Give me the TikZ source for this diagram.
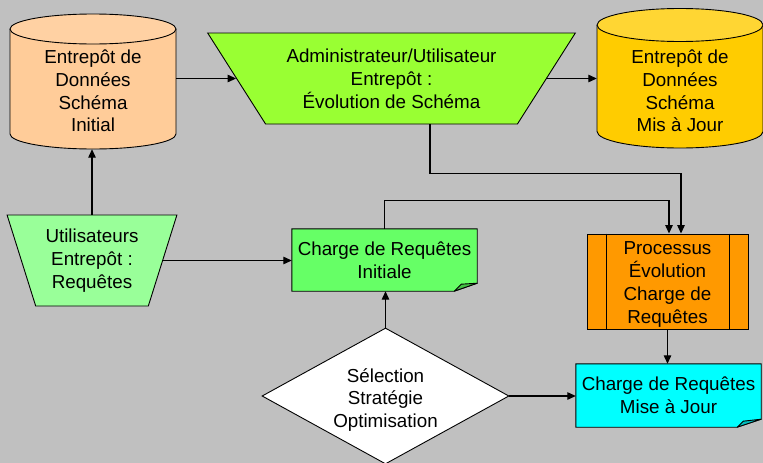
\documentclass[tikz,border=0pt]{standalone}
\usepackage{fontspec}
\setmainfont{Liberation Sans}
\usetikzlibrary{shapes.geometric,arrows.meta,calc}

\definecolor{canvas}{HTML}{C0C0C0}
\definecolor{peach}{HTML}{FFCC99}
\definecolor{peachtop}{HTML}{FFD1A3}
\definecolor{gold}{HTML}{FFCC00}
\definecolor{goldtop}{HTML}{FFD633}
\definecolor{lime}{HTML}{99FF33}
\definecolor{mint}{HTML}{99FF99}
\definecolor{notegreen}{HTML}{66FF66}
\definecolor{notegreendark}{HTML}{44C044}
\definecolor{procorange}{HTML}{FF9900}
\definecolor{aqua}{HTML}{00FFFF}
\definecolor{aquadark}{HTML}{00BFBF}

\pgfdeclarelayer{back}
\pgfdeclarelayer{shapes}
\pgfsetlayers{back,shapes,main}

\tikzset{
  txt/.style={align=center, inner sep=0pt},
  outline/.style={draw=black, line width=0.9pt},
  arr/.style={line width=1.2pt, -{Triangle[length=8.5pt,width=7.5pt]}},
  trap/.style={trapezium, trapezium stretches=true, shape border rotate=180,
    inner sep=0pt, align=center, outline},
  area/.style={inner sep=0pt, minimum width=166pt},
  notebox/.style={inner sep=0pt, align=center, minimum width=185pt},
}

\begin{document}
\begin{tikzpicture}[x=1pt, y=-1pt, font=\fontsize{18.8}{22.8}\selectfont]
  \useasboundingbox (0,0) rectangle (763,463);
  \begin{pgfonlayer}{back}
    \fill[canvas] (0,0) rectangle (763,463);
  \end{pgfonlayer}

  % --- data stores (cylinders) ---
  \node[area, minimum height=135pt] (cylL) at (93,81.5) {};
  \node[txt] (cylLtxt) at (93,91) {Entrepôt de\\Données\\Schéma\\Initial};
  \node[area, minimum height=140pt] (cylR) at (680,78) {};
  \node[txt] (cylRtxt) at (680,91) {Entrepôt de\\Données\\Schéma\\Mis à Jour};
  \begin{pgfonlayer}{shapes}
    \path[outline, fill=peach] (10,29) -- (10,134)
      arc[start angle=180, end angle=0, x radius=83, y radius=15] -- (176,29);
    \path[outline, fill=peachtop] (93,29) ellipse[x radius=83, y radius=15];
    \path[outline, fill=gold] (597,25) -- (597,131.5)
      arc[start angle=180, end angle=0, x radius=83, y radius=16.5] -- (763,25);
    \path[outline, fill=goldtop] (680,25) ellipse[x radius=83, y radius=16.5];
  \end{pgfonlayer}

  % --- actors (trapezia) ---
  \node[trap, fill=lime, trapezium left angle=50.9, trapezium right angle=50.9,
        minimum width=369pt, minimum height=91pt] (trapT) at (391.5,78.5)
        {Administrateur/Utilisateur\\Entrepôt :\\Évolution de Schéma};
  \node[trap, fill=mint, trapezium left angle=69.5, trapezium right angle=69.5,
        minimum width=170pt, minimum height=91pt] (trapL) at (92,260.5)
        {Utilisateurs\\Entrepôt :\\Requêtes};

  % --- documents (notes with folded corner) ---
  \node[notebox, minimum height=62pt] (noteI) at (384.5,260)
        {Charge de Requêtes\\Initiale};
  \node[notebox, minimum height=63pt] (noteM) at (668.5,395.5)
        {Charge de Requêtes\\Mise à Jour};
  \begin{pgfonlayer}{shapes}
    \path[outline, fill=notegreen] (noteI.north west) -- (noteI.north east)
      -- ([yshift=8pt]noteI.south east) -- ([xshift=-23pt]noteI.south east)
      -- (noteI.south west) -- cycle;
    \path[outline, fill=notegreendark, line join=round] ([xshift=-23pt]noteI.south east)
      -- ([xshift=-16pt,yshift=7pt]noteI.south east) -- ([yshift=8pt]noteI.south east) -- cycle;
    \path[outline, fill=aqua] (noteM.north west) -- (noteM.north east)
      -- ([yshift=8pt]noteM.south east) -- ([xshift=-24pt]noteM.south east)
      -- (noteM.south west) -- cycle;
    \path[outline, fill=aquadark, line join=round] ([xshift=-24pt]noteM.south east)
      -- ([xshift=-18pt,yshift=6pt]noteM.south east) -- ([yshift=8pt]noteM.south east) -- cycle;
  \end{pgfonlayer}

  % --- predefined process ---
  \node[outline, fill=procorange, inner sep=0pt,
        minimum width=161pt, minimum height=95pt] (proc) at (667.5,281.5) {};
  \node[txt] (proctxt) at (667.5,284.5) {Processus\\Évolution\\Charge de\\Requêtes};
  \draw[line width=0.9pt] ([xshift=20pt]proc.north west) -- ([xshift=20pt]proc.south west);
  \draw[line width=0.9pt] ([xshift=-19pt]proc.north east) -- ([xshift=-19pt]proc.south east);

  % --- decision ---
  \node[diamond, outline, fill=white, inner sep=0pt, aspect=1.8,
        minimum width=247pt, minimum height=136pt] (dia) at (385.5,396) {};
  \node[txt] (diatxt) at (385.5,400) {Sélection\\Stratégie\\Optimisation};

  % --- connectors ---
  \draw[arr] (cylL.east |- trapT.west) -- (trapT.west);
  \draw[arr] (trapT.east) -- (cylR.west |- trapT.east);
  \draw[arr] (trapL.north) -- (trapL.north |- cylL.south);
  \draw[arr] (trapL.east) -- (noteI.west |- trapL.east);
  \draw[arr] (noteI.north) -- ++(0,-28) -| ([xshift=1.5pt]proc.north);
  \draw[arr] ([xshift=38.5pt]trapT.south) -- ++(0,49) -| ([xshift=13.5pt]proc.north);
  \draw[arr] (proc.south) -- (proc.south |- noteM.north);
  \draw[arr] (dia.north) -- (dia.north |- noteI.south);
  \draw[arr] (dia.east) -- (noteM.west |- dia.east);
\end{tikzpicture}
\end{document}
